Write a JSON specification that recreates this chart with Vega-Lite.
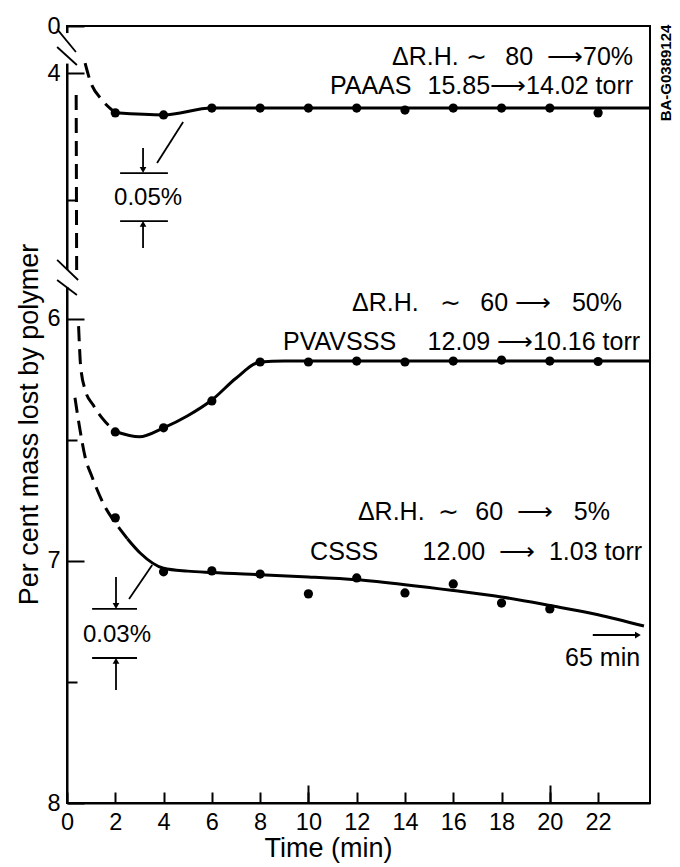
{
  "$schema": "https://vega.github.io/schema/vega-lite/v6.json",
  "width": 583,
  "height": 777,
  "autosize": {"type": "none"},
  "padding": {"left": 67, "top": 26, "right": 30, "bottom": 64},
  "background": "white",
  "config": {
    "view": {"stroke": "black", "strokeWidth": 2},
    "axis": {
      "domainColor": "black", "domainWidth": 2, "tickColor": "black", "tickWidth": 2,
      "labelColor": "black", "labelFont": "Liberation Sans", "labelFontSize": 23.5,
      "titleFont": "Liberation Sans", "titleFontSize": 27, "titleFontWeight": "normal", "titleColor": "black",
      "grid": false
    },
    "text": {"font": "Liberation Sans", "fontSize": 25, "color": "black"}
  },
  "datasets": {
    "solid": [
      {"series": "PAAAS", "t": 2, "v": 4.157},
      {"series": "PAAAS", "t": 4, "v": 4.165},
      {"series": "PAAAS", "t": 6, "v": 4.138},
      {"series": "PAAAS", "t": 8, "v": 4.138},
      {"series": "PAAAS", "t": 24.15, "v": 4.138},
      {"series": "PVAVSSS", "t": 2, "v": 6.465},
      {"series": "PVAVSSS", "t": 3, "v": 6.487},
      {"series": "PVAVSSS", "t": 4, "v": 6.45},
      {"series": "PVAVSSS", "t": 5, "v": 6.4},
      {"series": "PVAVSSS", "t": 6, "v": 6.335},
      {"series": "PVAVSSS", "t": 7, "v": 6.245},
      {"series": "PVAVSSS", "t": 8, "v": 6.178},
      {"series": "PVAVSSS", "t": 9, "v": 6.174},
      {"series": "PVAVSSS", "t": 24.15, "v": 6.174},
      {"series": "CSSS", "t": 2.5, "v": 6.908},
      {"series": "CSSS", "t": 3.03, "v": 6.967},
      {"series": "CSSS", "t": 4, "v": 7.03},
      {"series": "CSSS", "t": 5, "v": 7.042},
      {"series": "CSSS", "t": 6, "v": 7.048},
      {"series": "CSSS", "t": 8, "v": 7.057},
      {"series": "CSSS", "t": 10, "v": 7.066},
      {"series": "CSSS", "t": 12, "v": 7.078},
      {"series": "CSSS", "t": 14, "v": 7.098},
      {"series": "CSSS", "t": 16, "v": 7.122},
      {"series": "CSSS", "t": 18, "v": 7.149},
      {"series": "CSSS", "t": 20, "v": 7.184},
      {"series": "CSSS", "t": 22, "v": 7.222},
      {"series": "CSSS", "t": 23.9, "v": 7.269}
    ],
    "dashed": [
      {"series": "PAAAS", "t": 0.75, "v": 3.15},
      {"series": "PAAAS", "t": 0.95, "v": 4.028},
      {"series": "PAAAS", "t": 1.45, "v": 4.106},
      {"series": "PAAAS", "t": 1.87, "v": 4.146},
      {"series": "PAAAS", "t": 2.0, "v": 4.157},
      {"series": "lead", "t": 0.38, "v": 4.087},
      {"series": "lead", "t": 0.4, "v": 4.893},
      {"series": "PVAVSSS", "t": 0.48, "v": 6.03},
      {"series": "PVAVSSS", "t": 0.52, "v": 6.12},
      {"series": "PVAVSSS", "t": 0.56, "v": 6.19},
      {"series": "PVAVSSS", "t": 0.75, "v": 6.293},
      {"series": "PVAVSSS", "t": 1.08, "v": 6.355},
      {"series": "PVAVSSS", "t": 1.45, "v": 6.409},
      {"series": "PVAVSSS", "t": 2.0, "v": 6.465},
      {"series": "CSSS", "t": 0.33, "v": 6.326},
      {"series": "CSSS", "t": 0.54, "v": 6.459},
      {"series": "CSSS", "t": 0.75, "v": 6.57},
      {"series": "CSSS", "t": 1.04, "v": 6.653},
      {"series": "CSSS", "t": 1.58, "v": 6.777},
      {"series": "CSSS", "t": 2.0, "v": 6.842},
      {"series": "CSSS", "t": 2.5, "v": 6.908}
    ],
    "points": [
      {"series": "PAAAS", "t": 2, "v": 4.157},
      {"series": "PAAAS", "t": 4, "v": 4.165},
      {"series": "PAAAS", "t": 6, "v": 4.138},
      {"series": "PAAAS", "t": 8, "v": 4.138},
      {"series": "PAAAS", "t": 10, "v": 4.138},
      {"series": "PAAAS", "t": 12, "v": 4.138},
      {"series": "PAAAS", "t": 14, "v": 4.146},
      {"series": "PAAAS", "t": 16, "v": 4.138},
      {"series": "PAAAS", "t": 18, "v": 4.138},
      {"series": "PAAAS", "t": 20, "v": 4.138},
      {"series": "PAAAS", "t": 22, "v": 4.157},
      {"series": "PVAVSSS", "t": 2, "v": 6.467},
      {"series": "PVAVSSS", "t": 4, "v": 6.45},
      {"series": "PVAVSSS", "t": 6, "v": 6.339},
      {"series": "PVAVSSS", "t": 8, "v": 6.178},
      {"series": "PVAVSSS", "t": 10, "v": 6.178},
      {"series": "PVAVSSS", "t": 12, "v": 6.174},
      {"series": "PVAVSSS", "t": 14, "v": 6.178},
      {"series": "PVAVSSS", "t": 16, "v": 6.174},
      {"series": "PVAVSSS", "t": 18, "v": 6.17},
      {"series": "PVAVSSS", "t": 20, "v": 6.174},
      {"series": "PVAVSSS", "t": 22, "v": 6.176},
      {"series": "CSSS", "t": 2, "v": 6.822},
      {"series": "CSSS", "t": 4, "v": 7.045},
      {"series": "CSSS", "t": 6, "v": 7.041},
      {"series": "CSSS", "t": 8, "v": 7.054},
      {"series": "CSSS", "t": 10, "v": 7.136},
      {"series": "CSSS", "t": 12, "v": 7.07},
      {"series": "CSSS", "t": 14, "v": 7.132},
      {"series": "CSSS", "t": 16, "v": 7.095},
      {"series": "CSSS", "t": 18, "v": 7.174},
      {"series": "CSSS", "t": 20, "v": 7.198}
    ],
    "gaps": [
      {"t": 0, "v": 0.6, "t2": 0, "v2": 3.2},
      {"t": 0, "v": 4.893, "t2": 0, "v2": 5.46}
    ],
    "rules": [
      {"t": -0.41, "v": 0.26, "t2": 0.37, "v2": 2.21},
      {"t": -0.41, "v": 1.79, "t2": 0.41, "v2": 3.32},
      {"t": -0.41, "v": 4.736, "t2": 0.46, "v2": 5.226},
      {"t": -0.41, "v": 5.226, "t2": 0.41, "v2": 5.726},
      {"t": 2.2, "v": 4.394, "t2": 4.18, "v2": 4.394},
      {"t": 2.2, "v": 4.583, "t2": 4.18, "v2": 4.583},
      {"t": 3.15, "v": 4.295, "t2": 3.15, "v2": 4.385},
      {"t": 3.15, "v": 4.689, "t2": 3.15, "v2": 4.594},
      {"t": 3.73, "v": 4.354, "t2": 4.81, "v2": 4.193},
      {"t": 1.04, "v": 7.198, "t2": 2.9, "v2": 7.198},
      {"t": 1.04, "v": 7.401, "t2": 2.9, "v2": 7.401},
      {"t": 2.03, "v": 7.066, "t2": 2.03, "v2": 7.19},
      {"t": 2.03, "v": 7.533, "t2": 2.03, "v2": 7.41},
      {"t": 2.57, "v": 7.157, "t2": 3.53, "v2": 7.017},
      {"t": 21.78, "v": 7.306, "t2": 23.6, "v2": 7.306}
    ],
    "heads": [
      {"dir": "down", "t": 3.15, "v": 4.382},
      {"dir": "up", "t": 3.15, "v": 4.594},
      {"dir": "down", "t": 2.03, "v": 7.186},
      {"dir": "up", "t": 2.03, "v": 7.413},
      {"dir": "right", "t": 23.65, "v": 7.306}
    ],
    "labels_right": [
      {"label": "80\u00a0\u00a0⟶70%", "t": 23.45, "v": 2.64},
      {"label": "15.85⟶14.02 torr", "t": 23.45, "v": 4.051},
      {"label": "60\u00a0⟶\u00a0\u00a0\u00a050%", "t": 22.99, "v": 5.934},
      {"label": "12.09\u00a0⟶10.16 torr", "t": 23.74, "v": 6.095},
      {"label": "60\u00a0\u00a0⟶\u00a0\u00a0\u00a05%", "t": 22.49, "v": 6.797},
      {"label": "12.00\u00a0\u00a0⟶\u00a0\u00a01.03 torr", "t": 23.82, "v": 6.963},
      {"label": "65 min", "t": 23.74, "v": 7.401}
    ],
    "labels_left": [
      {"label": "ΔR.H.\u00a0∼", "t": 13.46, "v": 2.64},
      {"label": "PAAAS", "t": 10.89, "v": 4.051},
      {"label": "ΔR.H.\u00a0\u00a0\u00a0∼", "t": 11.81, "v": 5.934},
      {"label": "PVAVSSS", "t": 8.95, "v": 6.095},
      {"label": "ΔR.H.\u00a0\u00a0∼", "t": 12.05, "v": 6.797},
      {"label": "CSSS", "t": 10.07, "v": 6.963}
    ],
    "labels_center": [
      {"label": "0.05%", "t": 3.36, "v": 4.492},
      {"label": "0.03%", "t": 2.07, "v": 7.306}
    ],
    "code": [
      {"label": "BA-G0389124", "t": 24.81, "v": 4.0}
    ]
  },
  "encoding": {
    "x": {"field": "t", "type": "quantitative", "scale": {"domain": [0, 24.15], "nice": false, "zero": false}, "axis": null},
    "y": {"field": "v", "type": "quantitative", "scale": {"domain": [0, 4, 4.76, 5.926, 8], "range": [0, 47, 240, 275, 777], "nice": false, "zero": false}, "axis": null}
  },
  "layer": [
    {
      "data": {"name": "gaps"},
      "mark": {"type": "rule", "color": "white", "strokeWidth": 6},
      "encoding": {"x2": {"field": "t2"}, "y2": {"field": "v2"}}
    },
    {
      "data": {"name": "rules"},
      "mark": {"type": "rule", "color": "black", "strokeWidth": 1.8},
      "encoding": {"x2": {"field": "t2"}, "y2": {"field": "v2"}}
    },
    {
      "data": {"name": "solid"},
      "mark": {"type": "line", "color": "black", "strokeWidth": 3, "interpolate": "monotone"},
      "encoding": {
        "detail": {"field": "series"},
        "x": {"field": "t", "type": "quantitative", "scale": {"domain": [0, 24.15], "nice": false, "zero": false},
          "axis": {"values": [0, 2, 4, 6, 8, 10, 12, 14, 16, 18, 20, 22], "tickSize": -11, "labelPadding": 18, "labelFlush": false,
            "title": "Time (min)", "titleX": 261, "titleY": 53, "titleBaseline": "alphabetic", "orient": "bottom"}},
        "y": {"field": "v", "type": "quantitative", "scale": {"domain": [0, 4, 4.76, 5.926, 8], "range": [0, 47, 240, 275, 777], "nice": false, "zero": false},
          "axis": {"values": [0, 4, 6, 7, 8], "tickSize": -17, "labelPadding": 24, "labelFlush": false,
            "title": "Per cent mass lost by polymer", "titleX": -30, "titleY": 398, "titleAngle": 270, "titleBaseline": "alphabetic", "orient": "left"}}
      }
    },
    {
      "data": {"name": "dashed"},
      "mark": {"type": "line", "color": "black", "strokeWidth": 3, "interpolate": "monotone", "strokeDash": [15, 8]},
      "encoding": {"detail": {"field": "series"}}
    },
    {
      "data": {"name": "points"},
      "mark": {"type": "circle", "color": "black", "size": 85, "opacity": 1}
    },
    {
      "data": {"name": "heads"},
      "mark": {"type": "point", "filled": true, "color": "black", "size": 45, "opacity": 1},
      "encoding": {
        "shape": {"field": "dir", "type": "nominal", "scale": {"domain": ["down", "up", "right"], "range": ["triangle-down", "triangle-up", "triangle-right"]}, "legend": null}
      }
    },
    {
      "data": {"name": "labels_right"},
      "mark": {"type": "text", "align": "right", "baseline": "middle"},
      "encoding": {"text": {"field": "label"}}
    },
    {
      "data": {"name": "labels_left"},
      "mark": {"type": "text", "align": "left", "baseline": "middle"},
      "encoding": {"text": {"field": "label"}}
    },
    {
      "data": {"name": "labels_center"},
      "mark": {"type": "text", "align": "center", "baseline": "middle", "fontSize": 24},
      "encoding": {"text": {"field": "label"}}
    },
    {
      "data": {"name": "code"},
      "mark": {"type": "text", "align": "center", "baseline": "middle", "angle": 270, "fontSize": 15, "fontWeight": "bold"},
      "encoding": {"text": {"field": "label"}}
    },
    {
      "data": {"name": "points"},
      "mark": {"type": "point", "opacity": 0},
      "encoding": {
        "x": {"field": "t", "type": "quantitative", "scale": {"domain": [0, 24.15], "nice": false, "zero": false},
          "axis": {"values": [10, 20], "tickSize": -18, "labels": false, "domain": false, "title": null, "orient": "bottom"}},
        "y": {"field": "v", "type": "quantitative", "scale": {"domain": [0, 4, 4.76, 5.926, 8], "range": [0, 47, 240, 275, 777], "nice": false, "zero": false},
          "axis": {"values": [4.5, 6.5, 7.5], "tickSize": -10, "labels": false, "domain": false, "title": null, "orient": "left"}}
      }
    }
  ],
  "resolve": {"axis": {"x": "independent", "y": "independent"}}
}
